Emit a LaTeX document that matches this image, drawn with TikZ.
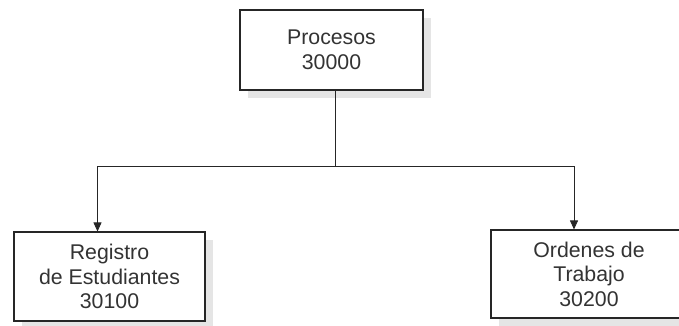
\documentclass[tikz,border=0pt]{standalone}
\usepackage{fontspec}
\setmainfont{Liberation Sans}
\usepackage{tikz}
\usetikzlibrary{arrows.meta,shadows}

\begin{document}
\begin{tikzpicture}[x=1pt,y=-1pt,>={Triangle[length=9pt,width=8pt]},
  caja/.style={draw=black!85,line width=1.1pt,fill=white,align=center,
    text=black!80,font=\fontsize{21.3}{24.5}\selectfont,inner sep=0pt,
    drop shadow={shadow xshift=8pt,shadow yshift=-8pt,fill=black!10,opacity=1}},
  linea/.style={draw=black!85,line width=0.8pt}]
\useasboundingbox (0,0) rectangle (679,325);
\node[caja,minimum width=183pt,minimum height=80pt](proc)at(331.5,50){Procesos\\30000};
\node[caja,minimum width=191pt,minimum height=89pt](reg)at(109.5,276.5){Registro\\de Estudiantes\\30100};
\node[caja,minimum width=196pt,minimum height=88pt](ord)at(589,274){Ordenes de\\Trabajo\\30200};
\coordinate(split)at(335,166);
\draw[linea](split|-proc.south)--(split);
\draw[linea,->](split)-|([xshift=-12pt]reg.north);
\draw[linea,->](split)-|([xshift=-15pt]ord.north);
\end{tikzpicture}
\end{document}
